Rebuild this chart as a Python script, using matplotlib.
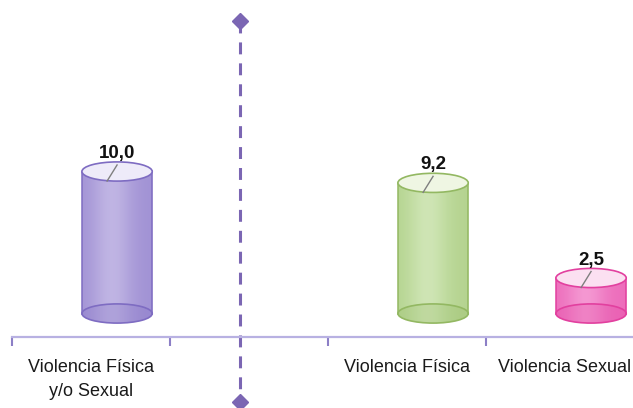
import numpy as np
import matplotlib
matplotlib.use("Agg")
import matplotlib.pyplot as plt
from matplotlib.patches import Ellipse, Polygon

plt.rcParams['font.family'] = ['Liberation Sans Narrow', 'Liberation Sans', 'DejaVu Sans']

# data
categories = ["Violencia Física\ny/o Sexual", "", "Violencia Física", "Violencia Sexual"]
values = [10.0, None, 9.2, 2.5]
body_colors = ["#9c8ad4", None, "#b3d78a", "#ee5cb8"]
edge_colors = ["#7e6cc2", None, "#93b862", "#e2409f"]
top_colors = ["#eeebf9", None, "#eff6e3", "#fbe0f1"]

# layout (data units)
BAR_OFFSET = 0.165
BAR_W = 0.445
ELL_H = 1.35
SEP_X = 0.94
AXIS_Y = -1.65


def draw_cylinder(ax, xc, h, body, edge, top):
    half = BAR_W / 2
    t = np.linspace(0, np.pi, 60)
    # lower half of bottom ellipse, right to left
    bx = xc + half * np.cos(t)
    by = -(ELL_H / 2) * np.sin(t)
    # upper half of the top ellipse, left to right (hidden under top cap)
    tx = xc - half * np.cos(t)
    ty = h + (ELL_H / 2) * np.sin(t)
    verts = np.column_stack([np.r_[bx, tx], np.r_[by, ty]])
    poly = Polygon(verts, closed=True, facecolor="none", edgecolor="none")
    ax.add_patch(poly)

    # horizontal shading: darker at the sides, lighter left of centre
    rgb_b = np.array(matplotlib.colors.to_rgb(body))
    rgb_e = np.array(matplotlib.colors.to_rgb(edge))
    s = np.linspace(0, 1, 100)
    light = np.exp(-((s - 0.42) / 0.28) ** 2)
    cols = rgb_e[None, :] * (1 - light[:, None]) * 0.35 + rgb_b[None, :] * (1 - 0.35 * (1 - light[:, None]))
    cols = cols + (1 - cols) * (0.25 * light[:, None])
    img = np.clip(cols, 0, 1)[None, :, :]
    im = ax.imshow(img, extent=(xc - half, xc + half, -ELL_H / 2, h + ELL_H / 2),
                   aspect="auto", alpha=0.85, zorder=2, interpolation="bilinear")
    im.set_clip_path(poly)

    # bottom ellipse outline (seen through the body)
    ax.add_patch(Ellipse((xc, 0), BAR_W, ELL_H, facecolor=edge, alpha=0.25,
                         edgecolor="none", zorder=3))
    ax.add_patch(Ellipse((xc, 0), BAR_W, ELL_H, facecolor="none",
                         edgecolor=edge, lw=1.2, zorder=3))
    # sides
    ax.plot([xc - half, xc - half], [0, h], color=edge, lw=1.1, zorder=3)
    ax.plot([xc + half, xc + half], [0, h], color=edge, lw=1.1, zorder=3)
    # top cap
    ax.add_patch(Ellipse((xc, h), BAR_W, ELL_H, facecolor=top,
                         edgecolor=edge, lw=1.2, zorder=4))


fig = plt.figure(figsize=(6.33, 4.08), dpi=100)
ax = fig.add_axes([0, 0, 1, 1])
ax.set_xlim(-91 / 158, 542 / 158)
ax.set_ylim(-94.5 / 14.2, 313.5 / 14.2)

x = np.arange(len(categories))
for i, v in enumerate(values):
    if v is None:
        continue
    xc = x[i] + BAR_OFFSET
    draw_cylinder(ax, xc, v, body_colors[i], edge_colors[i], top_colors[i])
    ax.plot([xc, xc - 0.063], [v + 0.46, v - 0.67], color="#7f7f7f", lw=1, zorder=5)
    ax.text(xc, v + 0.95, f"{v:.1f}".replace(".", ","), ha="center", va="baseline",
            fontsize=13.5, fontweight="bold", color="#111111", zorder=6)

# dashed separator with diamond ends
ax.plot([SEP_X, SEP_X], [20.6, -6.2], color="#7b66b3", lw=2.2,
        dashes=(3.9, 2.95), zorder=1)
ax.plot([SEP_X, SEP_X], [20.6, -6.2], linestyle="none", marker="D",
        markersize=8.5, color="#7b66b3", zorder=1)

# axis
for side in ["top", "left", "right"]:
    ax.spines[side].set_visible(False)
ax.spines["bottom"].set_position(("data", AXIS_Y))
ax.spines["bottom"].set_bounds(-0.5, 542 / 158)
ax.spines["bottom"].set_color("#b8b1e2")
ax.spines["bottom"].set_linewidth(1.6)
ax.set_yticks([])
ax.set_xticks(x)
ax.set_xticklabels(categories, fontsize=13, color="#1a1a1a")
for lab in ax.get_xticklabels():
    lab.set_linespacing(1.55)
ax.tick_params(axis="x", which="major", length=0, pad=16)
ax.set_xticks(np.arange(len(categories)) - 0.5, minor=True)
ax.tick_params(axis="x", which="minor", length=6.5, width=1.5, color="#8c7fc6", direction="out")
ax.set_facecolor("white")

fig.savefig("out.png", dpi=100, facecolor="white")
